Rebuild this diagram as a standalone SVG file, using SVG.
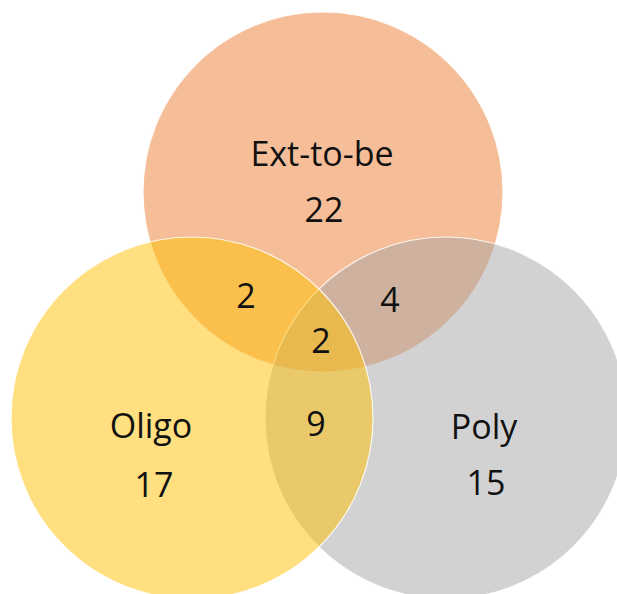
<svg xmlns="http://www.w3.org/2000/svg" width="617" height="594" viewBox="0 0 617 594">
  <style>
    .set { stroke: #ffffff; stroke-width: 1.2; stroke-opacity: 0.85; }
    .ext { fill: rgb(237,125,49); fill-opacity: 0.5; }
    .poly { fill: rgb(165,165,165); fill-opacity: 0.5; }
    .oligo { fill: rgb(255,192,0); fill-opacity: 0.5; }
    text { font-family: "Open Sans", "Noto Sans", sans-serif; font-size: 34px; fill: #111111; text-anchor: middle; }
  </style>
  <rect width="617" height="594" fill="#ffffff"/>

  <!-- set circles: Ext-to-be, then Poly, then Oligo on top -->
  <g id="ext-to-be">
    <circle class="set ext" cx="323" cy="192" r="180"/>
  </g>
  <g id="poly">
    <circle class="set poly" cx="446" cy="418" r="181"/>
  </g>
  <g id="oligo">
    <circle class="set oligo" cx="192" cy="418" r="181"/>
  </g>

  <!-- set names and counts -->
  <g id="labels">
    <text x="322" y="166">Ext-to-be</text>
    <text x="324" y="222">22</text>
    <text x="151" y="438">Oligo</text>
    <text x="154" y="497">17</text>
    <text x="484" y="439">Poly</text>
    <text x="486" y="495">15</text>
  </g>

  <!-- overlap counts -->
  <g id="overlaps">
    <text x="246" y="308">2</text>
    <text x="390" y="312">4</text>
    <text x="321" y="353">2</text>
    <text x="316" y="436">9</text>
  </g>
</svg>
